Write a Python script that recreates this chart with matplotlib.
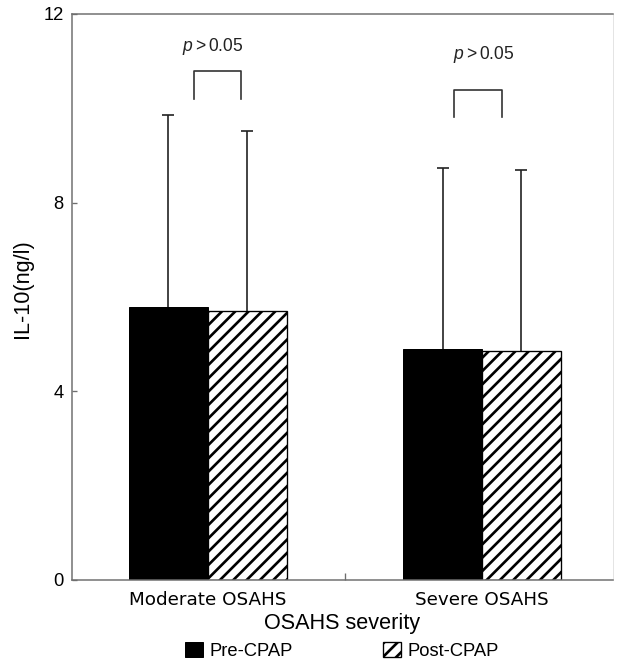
import numpy as np
import matplotlib
matplotlib.use('Agg')
import matplotlib.pyplot as plt

# Data
groups = ['Moderate OSAHS', 'Severe OSAHS']
series = ['Pre-CPAP', 'Post-CPAP']
pre_mean = [5.79, 4.89]
pre_sd = [4.07, 3.84]
post_mean = [5.70, 4.85]
post_sd = [3.82, 3.84]
yticks = [0, 4, 8, 12]

# significance brackets (x in group units, y in ng/l)
bracket_x = [[-0.051, 0.120], [0.898, 1.073]]
bracket_top = [10.79, 10.39]
bracket_bottom = [10.20, 9.81]
p_text = [r'$p > 0.05$', r'$p > 0.05$']
p_x = [0.018, 1.007]
p_y = [11.30, 11.13]

plt.rcParams['font.family'] = ['Liberation Sans', 'DejaVu Sans']
plt.rcParams['mathtext.fontset'] = 'custom'
plt.rcParams['mathtext.it'] = 'Liberation Sans:italic'
plt.rcParams['mathtext.rm'] = 'Liberation Sans'
plt.rcParams['hatch.linewidth'] = 1.6

dpi = 120
fig = plt.figure(figsize=(617 / dpi, 666 / dpi), dpi=dpi)
ax = fig.add_axes([72 / 617, 1 - 579.5 / 666, 541 / 617, 565.5 / 666])

x = np.arange(len(groups))
w = 0.288
spine_col = '#6e6e6e'

b1 = ax.bar(x - w / 2, pre_mean, w, color='black', edgecolor='black', linewidth=0.6,
            label=series[0], zorder=2)
b2 = ax.bar(x + w / 2, post_mean, w, color='white', edgecolor='black', linewidth=0.8,
            hatch='///', label=series[1], zorder=2)

# upward-only SD error bars
for xs, m, sd in [(x - w / 2, pre_mean, pre_sd), (x + w / 2, post_mean, post_sd)]:
    eb = ax.errorbar(xs, m, yerr=[np.zeros(len(sd)), sd], fmt='none', ecolor='#222222',
                     elinewidth=1.0, capsize=3.6, capthick=1.0, zorder=1)
    eb[1][0].set_visible(False)

for bx, top, bot in zip(bracket_x, bracket_top, bracket_bottom):
    ax.plot([bx[0], bx[0], bx[1], bx[1]], [bot, top, top, bot], color='#333333', lw=1.0)

for t, px, py in zip(p_text, p_x, p_y):
    ax.text(px, py, t, ha='center', va='center', fontsize=10.5, color='#222222')

ax.set_xlim(-0.496, 1.478)
ax.set_ylim(0, 12)
ax.set_yticks(yticks)
ax.set_yticklabels([str(v) for v in yticks])
ax.tick_params(axis='y', direction='in', length=3, width=0.8, color=spine_col,
               labelsize=11, pad=5)
ax.set_xticks(x)
ax.set_xticklabels(groups, family='DejaVu Sans', fontsize=11)
ax.tick_params(axis='x', length=0, pad=7)
ax.set_xticks([0.5], minor=True)
ax.tick_params(axis='x', which='minor', direction='in', length=4, width=0.8, color=spine_col)

for side in ['left', 'bottom', 'top']:
    ax.spines[side].set_color(spine_col)
    ax.spines[side].set_linewidth(0.9)
ax.spines['right'].set_color('#e4e4e4')
ax.spines['right'].set_linewidth(0.6)

ax.set_xlabel('OSAHS severity', fontsize=13, labelpad=2.5)
ax.set_ylabel('IL-10(ng/l)', fontsize=13)
ax.yaxis.set_label_coords(-0.072, 0.514)

fig.legend(handles=[b1, b2], labels=series, loc='center', bbox_to_anchor=(0.554, 0.0225),
           ncol=2, frameon=False, fontsize=11, handlelength=1.0, handleheight=0.9,
           handletextpad=0.35, columnspacing=4.9, borderpad=0, borderaxespad=0)

fig.savefig('out.png', dpi=dpi)
